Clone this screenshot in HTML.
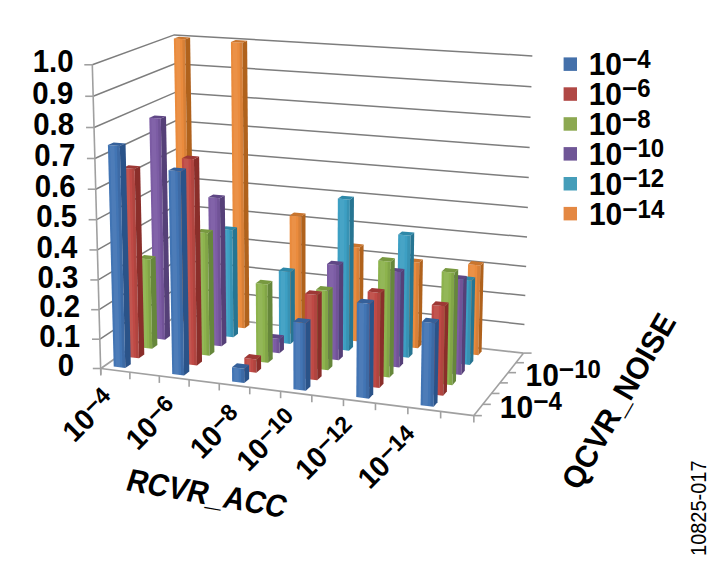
<!DOCTYPE html>
<html><head><meta charset="utf-8"><style>
html,body{margin:0;padding:0;background:#fff;}
body{width:725px;height:569px;overflow:hidden;}
svg{display:block;}
</style></head><body>
<svg width="725" height="569" viewBox="0 0 725 569">
<rect width="725" height="569" fill="#fff"/>
<defs><filter id="bl" x="-2%" y="-2%" width="104%" height="104%"><feGaussianBlur stdDeviation="0.45"/></filter></defs>
<g filter="url(#bl)">
<polyline points="100.80,368.50 179.02,313.95 523.59,353.10" fill="none" stroke="#a0a0a0" stroke-width="1.7"/>
<polyline points="99.98,339.21 178.56,286.96 524.44,324.42" fill="none" stroke="#7d7d7d" stroke-width="1.5"/>
<polyline points="99.15,309.69 178.09,259.77 525.29,295.52" fill="none" stroke="#7d7d7d" stroke-width="1.5"/>
<polyline points="98.32,279.94 177.62,232.39 526.15,266.39" fill="none" stroke="#7d7d7d" stroke-width="1.5"/>
<polyline points="97.48,249.94 177.14,204.80 527.01,237.03" fill="none" stroke="#7d7d7d" stroke-width="1.5"/>
<polyline points="96.63,219.71 176.66,177.01 527.88,207.44" fill="none" stroke="#7d7d7d" stroke-width="1.5"/>
<polyline points="95.78,189.22 176.18,149.01 528.76,177.62" fill="none" stroke="#7d7d7d" stroke-width="1.5"/>
<polyline points="94.92,158.49 175.70,120.80 529.64,147.55" fill="none" stroke="#7d7d7d" stroke-width="1.5"/>
<polyline points="94.05,127.51 175.21,92.39 530.53,117.25" fill="none" stroke="#7d7d7d" stroke-width="1.5"/>
<polyline points="93.18,96.27 174.71,63.76 531.43,86.70" fill="none" stroke="#7d7d7d" stroke-width="1.5"/>
<polyline points="92.30,64.77 174.22,34.91 532.34,55.91" fill="none" stroke="#7d7d7d" stroke-width="1.5"/>
<line x1="100.80" y1="374.50" x2="92.30" y2="64.77" stroke="#a0a0a0" stroke-width="1.6"/>
<line x1="92.80" y1="368.50" x2="100.80" y2="368.50" stroke="#a0a0a0" stroke-width="1.6"/>
<line x1="91.98" y1="339.21" x2="99.98" y2="339.21" stroke="#a0a0a0" stroke-width="1.6"/>
<line x1="91.15" y1="309.69" x2="99.15" y2="309.69" stroke="#a0a0a0" stroke-width="1.6"/>
<line x1="90.32" y1="279.94" x2="98.32" y2="279.94" stroke="#a0a0a0" stroke-width="1.6"/>
<line x1="89.48" y1="249.94" x2="97.48" y2="249.94" stroke="#a0a0a0" stroke-width="1.6"/>
<line x1="88.63" y1="219.71" x2="96.63" y2="219.71" stroke="#a0a0a0" stroke-width="1.6"/>
<line x1="87.78" y1="189.22" x2="95.78" y2="189.22" stroke="#a0a0a0" stroke-width="1.6"/>
<line x1="86.92" y1="158.49" x2="94.92" y2="158.49" stroke="#a0a0a0" stroke-width="1.6"/>
<line x1="86.05" y1="127.51" x2="94.05" y2="127.51" stroke="#a0a0a0" stroke-width="1.6"/>
<line x1="85.18" y1="96.27" x2="93.18" y2="96.27" stroke="#a0a0a0" stroke-width="1.6"/>
<line x1="84.30" y1="64.77" x2="92.30" y2="64.77" stroke="#a0a0a0" stroke-width="1.6"/>
<line x1="100.80" y1="368.50" x2="473.86" y2="415.62" stroke="#a0a0a0" stroke-width="1.6"/>
<line x1="100.80" y1="368.50" x2="100.80" y2="375.50" stroke="#a0a0a0" stroke-width="1.6"/>
<line x1="129.89" y1="372.17" x2="129.89" y2="379.17" stroke="#a0a0a0" stroke-width="1.6"/>
<line x1="159.33" y1="375.89" x2="159.33" y2="382.89" stroke="#a0a0a0" stroke-width="1.6"/>
<line x1="189.11" y1="379.65" x2="189.11" y2="386.65" stroke="#a0a0a0" stroke-width="1.6"/>
<line x1="219.25" y1="383.46" x2="219.25" y2="390.46" stroke="#a0a0a0" stroke-width="1.6"/>
<line x1="249.75" y1="387.31" x2="249.75" y2="394.31" stroke="#a0a0a0" stroke-width="1.6"/>
<line x1="280.61" y1="391.21" x2="280.61" y2="398.21" stroke="#a0a0a0" stroke-width="1.6"/>
<line x1="311.84" y1="395.16" x2="311.84" y2="402.16" stroke="#a0a0a0" stroke-width="1.6"/>
<line x1="343.46" y1="399.15" x2="343.46" y2="406.15" stroke="#a0a0a0" stroke-width="1.6"/>
<line x1="375.46" y1="403.19" x2="375.46" y2="410.19" stroke="#a0a0a0" stroke-width="1.6"/>
<line x1="407.86" y1="407.28" x2="407.86" y2="414.28" stroke="#a0a0a0" stroke-width="1.6"/>
<line x1="440.65" y1="411.43" x2="440.65" y2="418.43" stroke="#a0a0a0" stroke-width="1.6"/>
<line x1="473.86" y1="415.62" x2="473.86" y2="422.62" stroke="#a0a0a0" stroke-width="1.6"/>
<line x1="473.86" y1="415.62" x2="523.59" y2="353.10" stroke="#a0a0a0" stroke-width="1.6"/>
<line x1="473.86" y1="415.62" x2="481.86" y2="415.62" stroke="#a0a0a0" stroke-width="1.6"/>
<line x1="482.82" y1="404.35" x2="490.82" y2="404.35" stroke="#a0a0a0" stroke-width="1.6"/>
<line x1="491.50" y1="393.44" x2="499.50" y2="393.44" stroke="#a0a0a0" stroke-width="1.6"/>
<line x1="499.91" y1="382.88" x2="507.91" y2="382.88" stroke="#a0a0a0" stroke-width="1.6"/>
<line x1="508.05" y1="372.64" x2="516.05" y2="372.64" stroke="#a0a0a0" stroke-width="1.6"/>
<line x1="515.94" y1="362.72" x2="523.94" y2="362.72" stroke="#a0a0a0" stroke-width="1.6"/>
<line x1="523.59" y1="353.10" x2="531.59" y2="353.10" stroke="#a0a0a0" stroke-width="1.6"/>
<polygon points="178.73,320.77 189.64,322.02 185.17,39.29 173.86,38.62" fill="#ea8b3c"/>
<polygon points="180.64,320.99 184.72,321.46 180.07,38.99 175.83,38.74" fill="#fff" fill-opacity="0.06"/>
<polygon points="186.91,321.71 189.64,322.02 185.17,39.29 182.33,39.12" fill="#000" fill-opacity="0.08"/>
<polygon points="189.64,322.02 194.39,318.62 190.12,37.44 185.17,39.29" fill="#b0621f"/>
<polygon points="173.86,38.62 185.17,39.29 190.12,37.44 178.87,36.77" fill="#c9742d"/>
<polygon points="233.72,327.09 244.86,328.37 242.47,42.70 230.91,42.01" fill="#ea8b3c"/>
<polygon points="235.67,327.31 239.84,327.79 237.26,42.39 232.93,42.13" fill="#fff" fill-opacity="0.06"/>
<polygon points="242.07,328.05 244.86,328.37 242.47,42.70 239.58,42.52" fill="#000" fill-opacity="0.08"/>
<polygon points="244.86,328.37 249.34,324.89 247.14,40.80 242.47,42.70" fill="#b0621f"/>
<polygon points="230.91,42.01 242.47,42.70 247.14,40.80 235.64,40.12" fill="#c9742d"/>
<polygon points="289.91,333.55 301.30,334.86 301.21,216.45 289.64,215.38" fill="#ea8b3c"/>
<polygon points="291.90,333.78 296.17,334.27 296.00,215.97 291.66,215.57" fill="#fff" fill-opacity="0.06"/>
<polygon points="298.45,334.53 301.30,334.86 301.21,216.45 298.32,216.18" fill="#000" fill-opacity="0.08"/>
<polygon points="301.30,334.86 305.50,331.31 305.48,213.54 301.21,216.45" fill="#b0621f"/>
<polygon points="289.64,215.38 301.21,216.45 305.48,213.54 293.97,212.49" fill="#c9742d"/>
<polygon points="222.14,335.91 233.42,337.23 232.36,230.22 220.92,229.12" fill="#3c9fc3"/>
<polygon points="224.11,336.14 228.34,336.64 227.21,229.73 222.92,229.31" fill="#fff" fill-opacity="0.06"/>
<polygon points="230.60,336.90 233.42,337.23 232.36,230.22 229.50,229.95" fill="#000" fill-opacity="0.08"/>
<polygon points="233.42,337.23 238.04,333.66 237.05,227.23 232.36,230.22" fill="#287592"/>
<polygon points="220.92,229.12 232.36,230.22 237.05,227.23 225.67,226.14" fill="#2f88a8"/>
<polygon points="153.87,338.30 165.04,339.63 160.81,118.62 149.31,117.75" fill="#7b5ba4"/>
<polygon points="155.83,338.53 160.01,339.03 155.63,118.23 151.32,117.90" fill="#fff" fill-opacity="0.06"/>
<polygon points="162.25,339.29 165.04,339.63 160.81,118.62 157.93,118.40" fill="#000" fill-opacity="0.08"/>
<polygon points="165.04,339.63 170.08,336.02 166.01,116.24 160.81,118.62" fill="#553f78"/>
<polygon points="149.31,117.75 160.81,118.62 166.01,116.24 154.58,115.39" fill="#5f4685"/>
<polygon points="347.35,340.15 358.99,341.49 359.66,247.62 347.87,246.47" fill="#ea8b3c"/>
<polygon points="349.38,340.39 353.75,340.89 354.34,247.10 349.92,246.67" fill="#fff" fill-opacity="0.06"/>
<polygon points="356.08,341.16 358.99,341.49 359.66,247.62 356.70,247.33" fill="#000" fill-opacity="0.08"/>
<polygon points="358.99,341.49 362.90,337.86 363.61,244.51 359.66,247.62" fill="#b0621f"/>
<polygon points="347.87,246.47 359.66,247.62 363.61,244.51 351.88,243.37" fill="#c9742d"/>
<polygon points="279.04,342.57 290.57,343.92 290.41,272.04 278.77,270.84" fill="#3c9fc3"/>
<polygon points="281.05,342.80 285.38,343.31 285.17,271.50 280.80,271.05" fill="#fff" fill-opacity="0.06"/>
<polygon points="287.68,343.58 290.57,343.92 290.41,272.04 287.50,271.74" fill="#000" fill-opacity="0.08"/>
<polygon points="290.57,343.92 294.90,340.26 294.79,268.78 290.41,272.04" fill="#287592"/>
<polygon points="278.77,270.84 290.41,272.04 294.79,268.78 283.20,267.59" fill="#2f88a8"/>
<polygon points="210.22,345.00 221.64,346.36 219.93,198.31 208.29,197.26" fill="#7b5ba4"/>
<polygon points="212.22,345.24 216.50,345.75 214.69,197.84 210.32,197.45" fill="#fff" fill-opacity="0.06"/>
<polygon points="218.78,346.02 221.64,346.36 219.93,198.31 217.02,198.05" fill="#000" fill-opacity="0.08"/>
<polygon points="221.64,346.36 226.40,342.68 224.79,195.45 219.93,198.31" fill="#553f78"/>
<polygon points="208.29,197.26 219.93,198.31 224.79,195.45 213.21,194.42" fill="#5f4685"/>
<polygon points="140.89,347.45 152.19,348.82 150.32,259.50 138.88,258.32" fill="#8db34e"/>
<polygon points="142.86,347.69 147.10,348.21 145.17,258.97 140.88,258.53" fill="#fff" fill-opacity="0.06"/>
<polygon points="149.36,348.48 152.19,348.82 150.32,259.50 147.46,259.21" fill="#000" fill-opacity="0.08"/>
<polygon points="152.19,348.82 157.38,345.11 155.58,256.29 150.32,259.50" fill="#66873a"/>
<polygon points="138.88,258.32 150.32,259.50 155.58,256.29 144.20,255.12" fill="#78993f"/>
<polygon points="406.08,346.90 417.98,348.27 419.27,262.62 407.23,261.43" fill="#ea8b3c"/>
<polygon points="408.15,347.14 412.62,347.66 413.84,262.08 409.33,261.64" fill="#fff" fill-opacity="0.06"/>
<polygon points="415.00,347.93 417.98,348.27 419.27,262.62 416.25,262.32" fill="#000" fill-opacity="0.08"/>
<polygon points="417.98,348.27 421.58,344.56 422.91,259.38 419.27,262.62" fill="#b0621f"/>
<polygon points="407.23,261.43 419.27,262.62 422.91,259.38 410.93,258.21" fill="#c9742d"/>
<polygon points="337.22,349.37 349.01,350.75 349.88,199.64 337.84,198.58" fill="#3c9fc3"/>
<polygon points="339.28,349.61 343.70,350.13 344.45,199.16 339.94,198.76" fill="#fff" fill-opacity="0.06"/>
<polygon points="346.06,350.41 349.01,350.75 349.88,199.64 346.86,199.37" fill="#000" fill-opacity="0.08"/>
<polygon points="349.01,350.75 353.04,347.01 353.98,196.75 349.88,199.64" fill="#287592"/>
<polygon points="337.84,198.58 349.88,199.64 353.98,196.75 342.01,195.70" fill="#2f88a8"/>
<polygon points="466.13,353.81 478.31,355.21 480.40,265.46 468.07,264.25" fill="#ea8b3c"/>
<polygon points="468.26,354.05 472.82,354.58 474.84,264.92 470.22,264.46" fill="#fff" fill-opacity="0.06"/>
<polygon points="475.26,354.86 478.31,355.21 480.40,265.46 477.31,265.16" fill="#000" fill-opacity="0.08"/>
<polygon points="478.31,355.21 481.59,351.42 483.70,262.17 480.40,265.46" fill="#b0621f"/>
<polygon points="468.07,264.25 480.40,265.46 483.70,262.17 471.44,260.98" fill="#c9742d"/>
<polygon points="267.84,351.86 279.52,353.25 279.47,338.99 267.76,337.63" fill="#7b5ba4"/>
<polygon points="269.88,352.10 274.26,352.62 274.19,338.37 269.81,337.86" fill="#fff" fill-opacity="0.06"/>
<polygon points="276.59,352.90 279.52,353.25 279.47,338.99 276.54,338.65" fill="#000" fill-opacity="0.08"/>
<polygon points="279.52,353.25 283.98,349.48 283.94,335.30 279.47,338.99" fill="#553f78"/>
<polygon points="267.76,337.63 279.47,338.99 283.94,335.30 272.29,333.95" fill="#5f4685"/>
<polygon points="197.94,354.37 209.50,355.77 207.89,233.21 196.13,232.07" fill="#8db34e"/>
<polygon points="199.96,354.61 204.29,355.14 202.59,232.70 198.19,232.27" fill="#fff" fill-opacity="0.06"/>
<polygon points="206.61,355.42 209.50,355.77 207.89,233.21 204.94,232.93" fill="#000" fill-opacity="0.08"/>
<polygon points="209.50,355.77 214.40,351.97 212.88,230.11 207.89,233.21" fill="#66873a"/>
<polygon points="196.13,232.07 207.89,233.21 212.88,230.11 201.18,228.98" fill="#78993f"/>
<polygon points="127.51,356.89 138.96,358.30 134.65,169.02 122.91,168.02" fill="#bf4a45"/>
<polygon points="129.51,357.14 133.80,357.67 129.36,168.57 124.96,168.19" fill="#fff" fill-opacity="0.06"/>
<polygon points="136.09,357.95 138.96,358.30 134.65,169.02 131.71,168.77" fill="#000" fill-opacity="0.08"/>
<polygon points="138.96,358.30 144.30,354.48 140.15,166.27 134.65,169.02" fill="#8a2f2c"/>
<polygon points="122.91,168.02 134.65,169.02 140.15,166.27 128.48,165.28" fill="#9e3936"/>
<polygon points="396.72,356.33 408.78,357.74 410.47,235.74 398.21,234.58" fill="#3c9fc3"/>
<polygon points="398.82,356.58 403.35,357.11 404.94,235.22 400.35,234.79" fill="#fff" fill-opacity="0.06"/>
<polygon points="405.76,357.39 408.78,357.74 410.47,235.74 407.40,235.45" fill="#000" fill-opacity="0.08"/>
<polygon points="408.78,357.74 412.49,353.92 414.23,232.60 410.47,235.74" fill="#287592"/>
<polygon points="398.21,234.58 410.47,235.74 414.23,232.60 402.04,231.46" fill="#2f88a8"/>
<polygon points="326.77,358.87 338.72,360.30 339.14,265.18 327.03,263.96" fill="#7b5ba4"/>
<polygon points="328.86,359.12 333.34,359.65 333.68,264.63 329.15,264.18" fill="#fff" fill-opacity="0.06"/>
<polygon points="335.73,359.94 338.72,360.30 339.14,265.18 336.11,264.88" fill="#000" fill-opacity="0.08"/>
<polygon points="338.72,360.30 342.88,356.44 343.34,261.87 339.14,265.18" fill="#553f78"/>
<polygon points="327.03,263.96 339.14,265.18 343.34,261.87 331.30,260.66" fill="#5f4685"/>
<polygon points="457.59,363.45 469.93,364.89 471.80,280.58 459.31,279.31" fill="#3c9fc3"/>
<polygon points="459.74,363.70 464.37,364.24 466.17,280.01 461.49,279.54" fill="#fff" fill-opacity="0.06"/>
<polygon points="466.84,364.53 469.93,364.89 471.80,280.58 468.67,280.26" fill="#000" fill-opacity="0.08"/>
<polygon points="469.93,364.89 473.31,360.98 475.21,277.15 471.80,280.58" fill="#287592"/>
<polygon points="459.31,279.31 471.80,280.58 475.21,277.15 462.79,275.90" fill="#2f88a8"/>
<polygon points="256.30,361.43 268.13,362.87 267.72,284.48 255.76,283.22" fill="#8db34e"/>
<polygon points="258.36,361.69 262.80,362.22 262.33,283.91 257.85,283.44" fill="#fff" fill-opacity="0.06"/>
<polygon points="265.17,362.51 268.13,362.87 267.72,284.48 264.72,284.17" fill="#000" fill-opacity="0.08"/>
<polygon points="268.13,362.87 272.73,358.99 272.37,281.04 267.72,284.48" fill="#66873a"/>
<polygon points="255.76,283.22 267.72,284.48 272.37,281.04 260.47,279.79" fill="#78993f"/>
<polygon points="185.28,364.02 196.99,365.46 193.92,159.20 181.88,158.21" fill="#bf4a45"/>
<polygon points="187.32,364.27 191.71,364.81 188.50,158.75 183.99,158.38" fill="#fff" fill-opacity="0.06"/>
<polygon points="194.06,365.10 196.99,365.46 193.92,159.20 190.90,158.95" fill="#000" fill-opacity="0.08"/>
<polygon points="196.99,365.46 202.04,361.55 199.13,156.48 193.92,159.20" fill="#8a2f2c"/>
<polygon points="181.88,158.21 193.92,159.20 199.13,156.48 187.16,155.49" fill="#9e3936"/>
<polygon points="113.71,366.62 125.31,368.07 119.83,146.05 107.90,145.08" fill="#4274b4"/>
<polygon points="115.74,366.87 120.08,367.42 114.46,145.61 109.99,145.25" fill="#fff" fill-opacity="0.06"/>
<polygon points="122.40,367.71 125.31,368.07 119.83,146.05 116.84,145.80" fill="#000" fill-opacity="0.08"/>
<polygon points="125.31,368.07 130.82,364.13 125.54,143.39 119.83,146.05" fill="#2c5289"/>
<polygon points="107.90,145.08 119.83,146.05 125.54,143.39 113.67,142.43" fill="#35609a"/>
<polygon points="387.07,366.05 399.30,367.50 400.50,272.35 388.11,271.10" fill="#7b5ba4"/>
<polygon points="389.21,366.30 393.79,366.85 394.92,271.79 390.27,271.32" fill="#fff" fill-opacity="0.06"/>
<polygon points="396.24,367.14 399.30,367.50 400.50,272.35 397.39,272.04" fill="#000" fill-opacity="0.08"/>
<polygon points="399.30,367.50 403.13,363.56 404.37,268.95 400.50,272.35" fill="#553f78"/>
<polygon points="388.11,271.10 400.50,272.35 404.37,268.95 392.05,267.72" fill="#5f4685"/>
<polygon points="316.01,368.67 328.12,370.14 328.35,290.85 316.11,289.55" fill="#8db34e"/>
<polygon points="318.13,368.92 322.66,369.47 322.84,290.27 318.25,289.78" fill="#fff" fill-opacity="0.06"/>
<polygon points="325.09,369.77 328.12,370.14 328.35,290.85 325.28,290.53" fill="#000" fill-opacity="0.08"/>
<polygon points="328.12,370.14 332.40,366.16 332.68,287.33 328.35,290.85" fill="#66873a"/>
<polygon points="316.11,289.55 328.35,290.85 332.68,287.33 320.50,286.05" fill="#78993f"/>
<polygon points="244.40,371.31 256.39,372.79 256.29,359.48 244.28,358.03" fill="#bf4a45"/>
<polygon points="246.49,371.57 250.98,372.12 250.88,358.83 246.38,358.28" fill="#fff" fill-opacity="0.06"/>
<polygon points="253.38,372.42 256.39,372.79 256.29,359.48 253.29,359.12" fill="#000" fill-opacity="0.08"/>
<polygon points="256.39,372.79 261.13,368.78 261.04,355.55 256.29,359.48" fill="#8a2f2c"/>
<polygon points="244.28,358.03 256.29,359.48 261.04,355.55 249.10,354.12" fill="#9e3936"/>
<polygon points="448.78,373.39 461.29,374.88 463.30,279.42 450.62,278.14" fill="#7b5ba4"/>
<polygon points="450.96,373.65 455.65,374.21 457.59,278.84 452.84,278.36" fill="#fff" fill-opacity="0.06"/>
<polygon points="458.16,374.51 461.29,374.88 463.30,279.42 460.13,279.10" fill="#000" fill-opacity="0.08"/>
<polygon points="461.29,374.88 464.78,370.85 466.82,275.94 463.30,279.42" fill="#553f78"/>
<polygon points="450.62,278.14 463.30,279.42 466.82,275.94 454.21,274.67" fill="#5f4685"/>
<polygon points="172.22,373.97 184.09,375.46 180.69,171.40 168.50,170.36" fill="#4274b4"/>
<polygon points="174.30,374.23 178.74,374.79 175.20,170.93 170.63,170.54" fill="#fff" fill-opacity="0.06"/>
<polygon points="181.12,375.08 184.09,375.46 180.69,171.40 177.63,171.14" fill="#000" fill-opacity="0.08"/>
<polygon points="184.09,375.46 189.30,371.42 186.06,168.55 180.69,171.40" fill="#2c5289"/>
<polygon points="168.50,170.36 180.69,171.40 186.06,168.55 173.94,167.53" fill="#35609a"/>
<polygon points="377.12,376.07 389.52,377.57 390.83,261.75 378.23,260.50" fill="#8db34e"/>
<polygon points="379.29,376.33 383.93,376.90 385.15,261.18 380.43,260.72" fill="#fff" fill-opacity="0.06"/>
<polygon points="386.42,377.20 389.52,377.57 390.83,261.75 387.67,261.43" fill="#000" fill-opacity="0.08"/>
<polygon points="389.52,377.57 393.47,373.51 394.83,258.35 390.83,261.75" fill="#66873a"/>
<polygon points="378.23,260.50 390.83,261.75 394.83,258.35 382.30,257.12" fill="#78993f"/>
<polygon points="304.91,378.77 317.18,380.28 317.30,295.12 304.89,293.79" fill="#bf4a45"/>
<polygon points="307.05,379.04 311.65,379.60 311.71,294.52 307.05,294.02" fill="#fff" fill-opacity="0.06"/>
<polygon points="314.11,379.91 317.18,380.28 317.30,295.12 314.19,294.79" fill="#000" fill-opacity="0.08"/>
<polygon points="317.18,380.28 321.60,376.19 321.77,291.51 317.30,295.12" fill="#8a2f2c"/>
<polygon points="304.89,293.79 317.30,295.12 321.77,291.51 309.42,290.20" fill="#9e3936"/>
<polygon points="232.12,381.49 244.27,383.02 244.15,368.78 231.98,367.28" fill="#4274b4"/>
<polygon points="234.24,381.76 238.80,382.33 238.66,368.11 234.10,367.55" fill="#fff" fill-opacity="0.06"/>
<polygon points="241.23,382.64 244.27,383.02 244.15,368.78 241.10,368.41" fill="#000" fill-opacity="0.08"/>
<polygon points="244.27,383.02 249.16,378.89 249.05,364.73 244.15,368.78" fill="#2c5289"/>
<polygon points="231.98,367.28 244.15,368.78 249.05,364.73 236.94,363.25" fill="#35609a"/>
<polygon points="439.69,383.65 452.38,385.19 454.61,272.74 441.72,271.45" fill="#8db34e"/>
<polygon points="441.91,383.92 446.66,384.50 448.81,272.15 443.97,271.67" fill="#fff" fill-opacity="0.06"/>
<polygon points="449.20,384.80 452.38,385.19 454.61,272.74 451.39,272.41" fill="#000" fill-opacity="0.08"/>
<polygon points="452.38,385.19 455.98,381.03 458.25,269.23 454.61,272.74" fill="#66873a"/>
<polygon points="441.72,271.45 454.61,272.74 458.25,269.23 445.44,267.96" fill="#78993f"/>
<polygon points="366.86,386.41 379.43,387.96 380.37,292.95 367.64,291.61" fill="#bf4a45"/>
<polygon points="369.06,386.68 373.77,387.26 374.63,292.34 369.86,291.84" fill="#fff" fill-opacity="0.06"/>
<polygon points="376.28,387.57 379.43,387.96 380.37,292.95 377.18,292.61" fill="#000" fill-opacity="0.08"/>
<polygon points="379.43,387.96 383.50,383.77 384.49,289.31 380.37,292.95" fill="#8a2f2c"/>
<polygon points="367.64,291.61 380.37,292.95 384.49,289.31 371.83,287.98" fill="#9e3936"/>
<polygon points="293.45,389.20 305.89,390.76 305.88,323.20 293.33,321.79" fill="#4274b4"/>
<polygon points="295.62,389.47 300.29,390.05 300.23,322.57 295.52,322.04" fill="#fff" fill-opacity="0.06"/>
<polygon points="302.78,390.37 305.89,390.76 305.88,323.20 302.74,322.85" fill="#000" fill-opacity="0.08"/>
<polygon points="305.89,390.76 310.45,386.53 310.49,319.37 305.88,323.20" fill="#2c5289"/>
<polygon points="293.33,321.79 305.88,323.20 310.49,319.37 298.00,317.97" fill="#35609a"/>
<polygon points="430.31,394.24 443.18,395.83 444.85,306.35 431.81,304.96" fill="#bf4a45"/>
<polygon points="432.56,394.52 437.38,395.11 438.98,305.72 434.09,305.20" fill="#fff" fill-opacity="0.06"/>
<polygon points="439.96,395.43 443.18,395.83 444.85,306.35 441.58,306.00" fill="#000" fill-opacity="0.08"/>
<polygon points="443.18,395.83 446.90,391.53 448.60,302.58 444.85,306.35" fill="#8a2f2c"/>
<polygon points="431.81,304.96 444.85,306.35 448.60,302.58 435.64,301.21" fill="#9e3936"/>
<polygon points="356.27,397.09 369.01,398.69 369.82,303.85 356.91,302.46" fill="#4274b4"/>
<polygon points="358.49,397.37 363.27,397.97 364.00,303.23 359.16,302.70" fill="#fff" fill-opacity="0.06"/>
<polygon points="365.82,398.29 369.01,398.69 369.82,303.85 366.58,303.50" fill="#000" fill-opacity="0.08"/>
<polygon points="369.01,398.69 373.22,394.36 374.07,300.08 369.82,303.85" fill="#2c5289"/>
<polygon points="356.91,302.46 369.82,303.85 374.07,300.08 361.24,298.71" fill="#35609a"/>
<polygon points="420.62,405.17 433.68,406.81 435.13,323.19 421.92,321.74" fill="#4274b4"/>
<polygon points="422.90,405.46 427.80,406.07 429.18,322.53 424.23,321.99" fill="#fff" fill-opacity="0.06"/>
<polygon points="430.41,406.40 433.68,406.81 435.13,323.19 431.82,322.82" fill="#000" fill-opacity="0.08"/>
<polygon points="433.68,406.81 437.52,402.37 439.01,319.25 435.13,323.19" fill="#2c5289"/>
<polygon points="421.92,321.74 435.13,323.19 439.01,319.25 425.87,317.82" fill="#35609a"/>
</g>
<rect x="563.6" y="57.4" width="13.4" height="13.5" fill="#4470aa"/>
<rect x="563.6" y="87.3" width="13.4" height="13.5" fill="#b04845"/>
<rect x="563.6" y="117.2" width="13.4" height="13.5" fill="#8ca851"/>
<rect x="563.6" y="147.1" width="13.4" height="13.5" fill="#6f5696"/>
<rect x="563.6" y="177.0" width="13.4" height="13.5" fill="#459db9"/>
<rect x="563.6" y="206.9" width="13.4" height="13.5" fill="#e48843"/>
<text id="y0" transform="translate(53.10,72.20) rotate(0) scale(0.98,1.06)" text-anchor="middle" font-size="30" font-family="Liberation Sans, sans-serif" font-weight="bold">1.0</text>
<text id="y1" transform="translate(52.80,103.70) rotate(0) scale(0.98,1.06)" text-anchor="middle" font-size="30" font-family="Liberation Sans, sans-serif" font-weight="bold">0.9</text>
<text id="y2" transform="translate(53.70,135.30) rotate(0) scale(0.98,1.06)" text-anchor="middle" font-size="30" font-family="Liberation Sans, sans-serif" font-weight="bold">0.8</text>
<text id="y3" transform="translate(54.80,166.00) rotate(0) scale(0.98,1.06)" text-anchor="middle" font-size="30" font-family="Liberation Sans, sans-serif" font-weight="bold">0.7</text>
<text id="y4" transform="translate(55.10,196.60) rotate(0) scale(0.98,1.06)" text-anchor="middle" font-size="30" font-family="Liberation Sans, sans-serif" font-weight="bold">0.6</text>
<text id="y5" transform="translate(56.70,226.80) rotate(0) scale(0.98,1.06)" text-anchor="middle" font-size="30" font-family="Liberation Sans, sans-serif" font-weight="bold">0.5</text>
<text id="y6" transform="translate(56.90,257.70) rotate(0) scale(0.98,1.06)" text-anchor="middle" font-size="30" font-family="Liberation Sans, sans-serif" font-weight="bold">0.4</text>
<text id="y7" transform="translate(58.00,287.50) rotate(0) scale(0.98,1.06)" text-anchor="middle" font-size="30" font-family="Liberation Sans, sans-serif" font-weight="bold">0.3</text>
<text id="y8" transform="translate(59.60,316.80) rotate(0) scale(0.98,1.06)" text-anchor="middle" font-size="30" font-family="Liberation Sans, sans-serif" font-weight="bold">0.2</text>
<text id="y9" transform="translate(59.70,347.00) rotate(0) scale(0.98,1.06)" text-anchor="middle" font-size="30" font-family="Liberation Sans, sans-serif" font-weight="bold">0.1</text>
<text id="y10" transform="translate(65.90,376.40) rotate(0) scale(0.98,1.06)" text-anchor="middle" font-size="30" font-family="Liberation Sans, sans-serif" font-weight="bold">0</text>
<text id="l0" transform="translate(619.70,74.80) rotate(0) scale(1.0,1.04)" text-anchor="middle" font-size="30" font-family="Liberation Sans, sans-serif" font-weight="bold">10<tspan font-size="24" dy="-7" textLength="15.36" lengthAdjust="spacingAndGlyphs">−</tspan><tspan font-size="24">4</tspan></text>
<text id="l1" transform="translate(619.70,104.60) rotate(0) scale(1.0,1.04)" text-anchor="middle" font-size="30" font-family="Liberation Sans, sans-serif" font-weight="bold">10<tspan font-size="24" dy="-7" textLength="15.36" lengthAdjust="spacingAndGlyphs">−</tspan><tspan font-size="24">6</tspan></text>
<text id="l2" transform="translate(619.70,134.90) rotate(0) scale(1.0,1.04)" text-anchor="middle" font-size="30" font-family="Liberation Sans, sans-serif" font-weight="bold">10<tspan font-size="24" dy="-7" textLength="15.36" lengthAdjust="spacingAndGlyphs">−</tspan><tspan font-size="24">8</tspan></text>
<text id="l3" transform="translate(626.50,164.70) rotate(0) scale(1.0,1.04)" text-anchor="middle" font-size="30" font-family="Liberation Sans, sans-serif" font-weight="bold">10<tspan font-size="24" dy="-7" textLength="15.36" lengthAdjust="spacingAndGlyphs">−</tspan><tspan font-size="24">10</tspan></text>
<text id="l4" transform="translate(626.50,194.50) rotate(0) scale(1.0,1.04)" text-anchor="middle" font-size="30" font-family="Liberation Sans, sans-serif" font-weight="bold">10<tspan font-size="24" dy="-7" textLength="15.36" lengthAdjust="spacingAndGlyphs">−</tspan><tspan font-size="24">12</tspan></text>
<text id="l5" transform="translate(626.60,224.80) rotate(0) scale(1.0,1.04)" text-anchor="middle" font-size="30" font-family="Liberation Sans, sans-serif" font-weight="bold">10<tspan font-size="24" dy="-7" textLength="15.36" lengthAdjust="spacingAndGlyphs">−</tspan><tspan font-size="24">14</tspan></text>
<text id="c0" transform="translate(95.50,422.50) rotate(-45) scale(1,1.02)" text-anchor="middle" font-size="28.5" font-family="Liberation Sans, sans-serif" font-weight="bold">10<tspan font-size="23" dy="-6.5" textLength="14.72" lengthAdjust="spacingAndGlyphs">−</tspan><tspan font-size="23">4</tspan></text>
<text id="c1" transform="translate(158.60,430.50) rotate(-45) scale(1,1.02)" text-anchor="middle" font-size="28.5" font-family="Liberation Sans, sans-serif" font-weight="bold">10<tspan font-size="23" dy="-6.5" textLength="14.72" lengthAdjust="spacingAndGlyphs">−</tspan><tspan font-size="23">6</tspan></text>
<text id="c2" transform="translate(222.90,439.20) rotate(-45) scale(1,1.02)" text-anchor="middle" font-size="28.5" font-family="Liberation Sans, sans-serif" font-weight="bold">10<tspan font-size="23" dy="-6.5" textLength="14.72" lengthAdjust="spacingAndGlyphs">−</tspan><tspan font-size="23">8</tspan></text>
<text id="c3" transform="translate(274.00,447.20) rotate(-45) scale(1,1.02)" text-anchor="middle" font-size="28.5" font-family="Liberation Sans, sans-serif" font-weight="bold">10<tspan font-size="23" dy="-6.5" textLength="14.72" lengthAdjust="spacingAndGlyphs">−</tspan><tspan font-size="23">10</tspan></text>
<text id="c4" transform="translate(332.60,455.80) rotate(-45) scale(1,1.02)" text-anchor="middle" font-size="28.5" font-family="Liberation Sans, sans-serif" font-weight="bold">10<tspan font-size="23" dy="-6.5" textLength="14.72" lengthAdjust="spacingAndGlyphs">−</tspan><tspan font-size="23">12</tspan></text>
<text id="c5" transform="translate(395.10,464.90) rotate(-45) scale(1,1.02)" text-anchor="middle" font-size="28.5" font-family="Liberation Sans, sans-serif" font-weight="bold">10<tspan font-size="23" dy="-6.5" textLength="14.72" lengthAdjust="spacingAndGlyphs">−</tspan><tspan font-size="23">14</tspan></text>
<text id="d10" transform="translate(563.20,385.60) rotate(0) scale(1.0,1.04)" text-anchor="middle" font-size="30" font-family="Liberation Sans, sans-serif" font-weight="bold">10<tspan font-size="24" dy="-7" textLength="15.36" lengthAdjust="spacingAndGlyphs">−</tspan><tspan font-size="24">10</tspan></text>
<text id="d4" transform="translate(530.80,417.70) rotate(0) scale(1.0,1.04)" text-anchor="middle" font-size="30" font-family="Liberation Sans, sans-serif" font-weight="bold">10<tspan font-size="24" dy="-7" textLength="15.36" lengthAdjust="spacingAndGlyphs">−</tspan><tspan font-size="24">4</tspan></text>
<text id="rc" transform="translate(203.80,504.00) rotate(10) scale(1.0,1.1) skewX(-8)" text-anchor="middle" font-size="29" font-family="Liberation Sans, sans-serif" font-weight="bold">RCVR_ACC</text>
<text id="qc" transform="translate(627.80,406.50) rotate(-60) scale(1,1.03)" text-anchor="middle" font-size="30" font-family="Liberation Sans, sans-serif" font-weight="bold">QCVR_NOISE</text>
<text id="fig" transform="translate(705.70,508.20) rotate(-90) scale(1,1.12)" text-anchor="middle" font-size="20" font-family="Liberation Sans, sans-serif">10825-017</text>
</svg>
</body></html>
